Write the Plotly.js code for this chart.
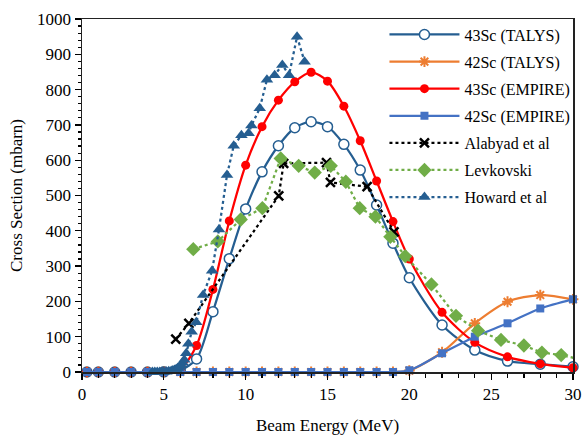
<!DOCTYPE html>
<html>
<head>
<meta charset="utf-8">
<script src="https://cdn.plot.ly/plotly-3.0.1.min.js"></script>
<style>
  html, body { margin: 0; padding: 0; background: #fff; }
  #chart { width: 585px; height: 435px; }
</style>
</head>
<body>
<div id="chart"></div>
<script>
// Model calculations (TALYS / EMPIRE) on a common energy grid, MeV
const energyModel = [0.3, 1, 2, 3, 4, 5, 6, 7, 8, 9, 10, 11, 12, 13, 14, 15, 16, 17, 18, 19, 20, 22, 24, 26, 28, 30];
const sc43Talys  = [0, 0, 0, 0, 0, 0.5, 5, 37, 171, 321, 462, 567, 641, 692, 709, 695, 645, 572, 473, 365, 267, 133, 62, 31, 22, 15];
const sc42Talys  = [0, 0, 0, 0, 0, 0, 0, 0, 0, 0, 0, 0, 0, 0, 0, 0, 0, 0, 0, 0, 4, 56, 138, 199, 218, 206];
const sc43Empire = [0, 0, 0, 0, 0, 0.5, 8, 75, 234, 428, 586, 695, 770, 822, 849, 824, 753, 655, 541, 426, 320, 169, 84, 43, 23, 12];
const sc42Empire = [0, 0, 0, 0, 0, 0, 0, 0, 0, 0, 0, 0, 0, 0, 0, 0, 0, 0, 0, 0, 5, 53, 100, 138, 180, 206];

// Experimental data sets
const alabyadE = [5.73, 6.53, 12.02, 12.32, 14.94, 15.18, 17.42, 19.06];
const alabyadXS = [93, 138, 499, 591, 593, 537, 525, 397];

const levkovskiE = [6.8, 8.3, 9.7, 11.02, 12.14, 13.24, 14.22, 15.2, 16.12, 16.97, 17.93, 18.84, 19.75, 21.35, 22.85, 24.2, 25.6, 27.0, 28.1, 29.28, 30.6];
const levkovskiXS = [348, 370, 432, 464, 605, 584, 565, 584, 539, 464, 440, 383, 328, 248, 159, 117, 91, 75, 55, 48, 34];

const howardE = [4.3, 4.45, 4.6, 4.75, 4.9, 5.0, 5.15, 5.3, 5.45, 5.55, 5.65, 5.75, 5.85, 5.95, 6.05, 6.15, 6.25, 6.37, 6.5, 6.7, 6.98, 7.4, 7.95, 8.37, 8.86, 9.27, 9.74, 10.18, 10.35, 10.86, 11.3, 11.77, 12.24, 12.65, 13.14, 13.6];
const howardXS = [0, 0, 0, 0, 0, 1, 1, 2, 3, 4, 6, 8, 11, 14, 19, 26, 35, 53, 80, 114, 141, 218, 287, 404, 558, 641, 671, 676, 698, 747, 828, 841, 870, 841, 950, 879];

const seriesNames = ['43Sc (TALYS)', '42Sc (TALYS)', '43Sc (EMPIRE)', '42Sc (EMPIRE)', 'Alabyad et al', 'Levkovski', 'Howard et al'];

const darkBlue = '#255E91';
const orange = '#ED7D31';
const red = '#FF0000';
const blue = '#4472C4';
const green = '#70AD47';

const serif = 'Liberation Serif, Times New Roman, serif';

function model(name, y, color, marker) {
  return {
    type: 'scatter', mode: 'lines+markers', name: name, legendgroup: name,
    x: energyModel, y: y, cliponaxis: false,
    line: { color: color, width: 2.25, shape: 'spline', smoothing: 0.8 },
    marker: marker
  };
}

function measured(name, x, y, color, marker, clip) {
  return {
    type: 'scatter', mode: 'lines+markers', name: name, legendgroup: name,
    x: x, y: y, cliponaxis: clip,
    line: { color: color, width: 2.25, dash: 'dot' },
    marker: marker
  };
}

const traces = [
  model(seriesNames[0], sc43Talys, darkBlue,
    { symbol: 'circle', size: 10, color: '#fff', line: { color: darkBlue, width: 1.5 } }),
  model(seriesNames[1], sc42Talys, orange,
    { symbol: 'asterisk-open', size: 9, color: orange, line: { color: orange, width: 2 } }),
  model(seriesNames[2], sc43Empire, red,
    { symbol: 'circle', size: 9, color: red, line: { width: 0 } }),
  model(seriesNames[3], sc42Empire, blue,
    { symbol: 'square', size: 8, color: blue, line: { width: 0 } }),
  measured(seriesNames[4], alabyadE, alabyadXS, '#000',
    { symbol: 'x-thin-open', size: 9, color: '#000', line: { color: '#000', width: 2.5 } }, false),
  measured(seriesNames[5], levkovskiE, levkovskiXS, green,
    { symbol: 'diamond', size: 11, color: green, line: { width: 0 } }, true),
  measured(seriesNames[6], howardE, howardXS, darkBlue,
    { symbol: 'triangle-up', size: 11, color: darkBlue, line: { width: 0 } }, false)
];

const axisBase = {
  showgrid: false, zeroline: false,
  showline: true, linecolor: '#222', linewidth: 1.5, mirror: true,
  ticks: 'outside', ticklen: 6, tickwidth: 1.3, tickcolor: '#000',
  tickfont: { family: serif, size: 17, color: '#000' }
};

const layout = {
  width: 585, height: 435,
  margin: { l: 82, r: 12, t: 19, b: 63, autoexpand: false },
  paper_bgcolor: '#fff', plot_bgcolor: '#fff',
  font: { family: serif, size: 17, color: '#000' },
  showlegend: true,
  legend: {
    x: 0.616, y: 1.004, xanchor: 'left', yanchor: 'top',
    bgcolor: 'rgba(255,255,255,0)', borderwidth: 0,
    font: { family: serif, size: 16, color: '#000' },
    traceorder: 'grouped', tracegroupgap: 3.3, itemwidth: 70
  },
  xaxis: Object.assign({}, axisBase, {
    range: [0, 30], tick0: 0, dtick: 5,
    minor: { dtick: 1, ticks: 'outside', ticklen: 4, tickcolor: '#000', tickwidth: 1.2 },
    title: { text: 'Beam Energy (MeV)', standoff: 28, font: { family: serif, size: 17, color: '#000' } }
  }),
  yaxis: Object.assign({}, axisBase, {
    range: [0, 1000], tick0: 0, dtick: 100,
    minor: { dtick: 20, ticks: 'outside', ticklen: 3, tickcolor: '#000', tickwidth: 1.2 },
    title: { text: 'Cross Section (mbarn)', standoff: 10, font: { family: serif, size: 17, color: '#000' } }
  })
};

Plotly.newPlot('chart', traces, layout, { displayModeBar: false, staticPlot: true });
</script>
</body>
</html>
